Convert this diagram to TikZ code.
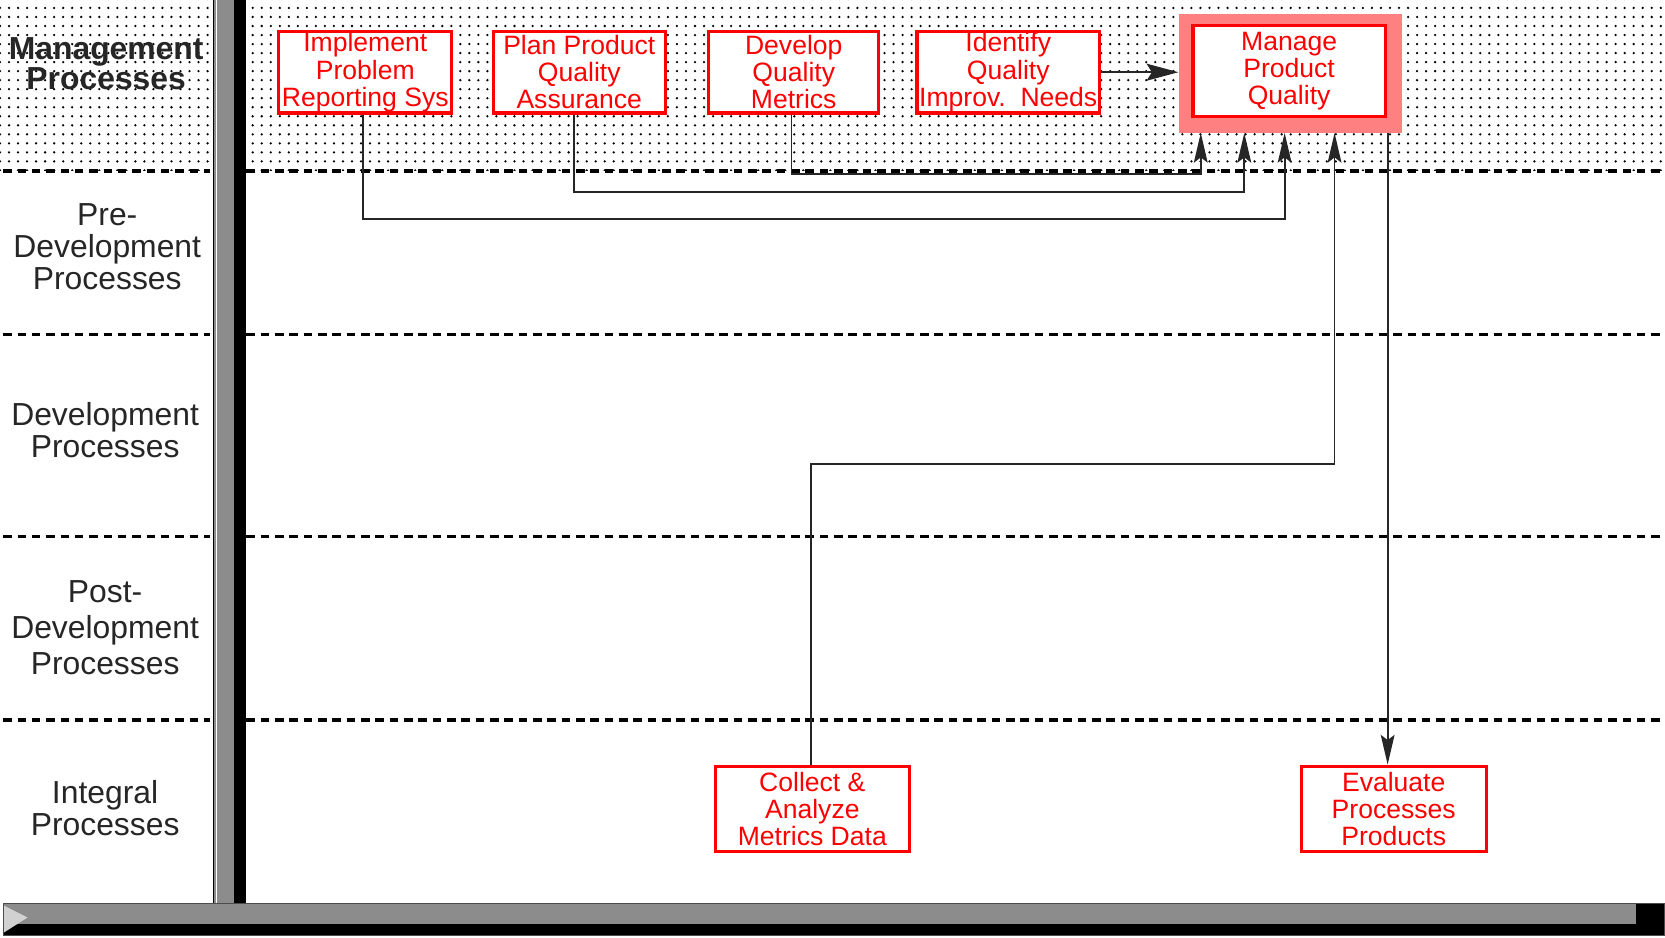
\documentclass[tikz,border=0pt]{standalone}
\usepackage{fontspec}
\setmainfont{Liberation Sans}
\usetikzlibrary{arrows.meta,patterns.meta}
\begin{document}
\begin{tikzpicture}[x=1pt,y=-1pt,
  pbox/.style={draw=red, line width=3pt, fill=white, text=red, align=center, inner sep=0pt, font=\fontsize{25}{25.5}\selectfont},
  lane/.style={line width=3pt, dash pattern=on 8pt off 5.5pt},
  lbl/.style={align=center, inner sep=0pt, font=\fontsize{30}{30}\selectfont, text=black!85},
  conn/.style={line width=1.6pt, black!85},
  tip/.style={-{Stealth[length=28pt,width=13pt,inset=5pt]}},
]
\useasboundingbox (0,0) rectangle (1568,883);
% dotted management band
\fill[pattern={Dots[distance=8.5pt,radius=1.2pt]},pattern color=black] (0,0) rectangle (1568,161);
% lane separators
\foreach \yy in {161,315,505,678} {
  \draw[lane] (3,\yy) -- (198,\yy);
  \draw[lane] (232,\yy) -- (1568,\yy);
}
% vertical bar
\fill[black!45] (201,0) rectangle (220,851);
\fill[black] (220,0) rectangle (232,851);
\draw[line width=1pt] (201.5,0) -- (201.5,851);
\draw[line width=1pt, white] (203.5,0) -- (203.5,851);
% bottom bar
\fill[black!45] (3,851) rectangle (1541,870);
\fill[black] (3,870) rectangle (1567,881);
\fill[black] (1541,851) rectangle (1567,870);
\draw[line width=0.8pt, black!70] (3,851) rectangle (1567,881);
\fill[black!18] (4,853) -- (26,864) -- (4,878) -- cycle;
% lane labels
\node[lbl, font=\bfseries\fontsize{30}{29}\selectfont] (lm) at (100,60) {Management\\Processes};
\node[lbl] (lpre) at (101,232) {Pre-\\Development\\Processes};
\node[lbl] (ldev) at (99,405) {Development\\Processes};
\node[lbl, font=\fontsize{30}{34}\selectfont] (lpost) at (99,591) {Post-\\Development\\Processes};
\node[lbl] (lint) at (99,761) {Integral\\Processes};
% process boxes
\node[pbox, minimum width=163pt, minimum height=77pt] (impl) at (344,68) {Implement\\Problem\\Reporting Sys};
\node[pbox, minimum width=162pt, minimum height=77pt] (plan) at (545.5,68) {Plan Product\\Quality\\Assurance};
\node[pbox, minimum width=160pt, minimum height=77pt] (dev) at (747.5,68) {Develop\\Quality\\Metrics};
\node[pbox, minimum width=172pt, minimum height=77pt] (ident) at (949.5,68) {Identify\\Quality\\Improv.\ \ Needs};
\node[fill=red!50, minimum width=210pt, minimum height=112pt, inner sep=0pt] (mframe) at (1215,69) {};
\node[pbox, minimum width=181pt, minimum height=86pt] (manage) at (1214,67) {Manage\\Product\\Quality};
\node[pbox, minimum width=183pt, minimum height=80pt] (collect) at (765,761.5) {Collect \&\\Analyze\\Metrics Data};
\node[pbox, minimum width=174pt, minimum height=80pt] (eval) at (1312.5,761.5) {Evaluate\\Processes\\Products};
% attachment points on the frame
\coordinate (in1) at ([xshift=21pt]mframe.south west);
\coordinate (in2) at ([xshift=62pt]mframe.south west);
\coordinate (in3) at ([xshift=100pt]mframe.south west);
\coordinate (in4) at ([xshift=147pt]mframe.south west);
\coordinate (mout) at ([xshift=197pt]mframe.south west);
% connectors
\draw[conn,tip] ([xshift=-2pt]dev.south) -- ++(0,56) -| (in1);
\draw[conn,tip] ([xshift=-5pt]plan.south) -- ++(0,73) -| (in2);
\draw[conn,tip] ([xshift=-2pt]impl.south) -- ++(0,98) -| (in3);
\draw[conn,tip] ([xshift=-1.5pt]collect.north) -- ++(0,-283) -| (in4);
\draw[conn,tip] (mout) -- (mout |- eval.north);
\draw[conn,-{Stealth[length=30pt,width=16pt,inset=5pt]}] (ident.east) -- (ident.east -| mframe.west);
\end{tikzpicture}
\end{document}
